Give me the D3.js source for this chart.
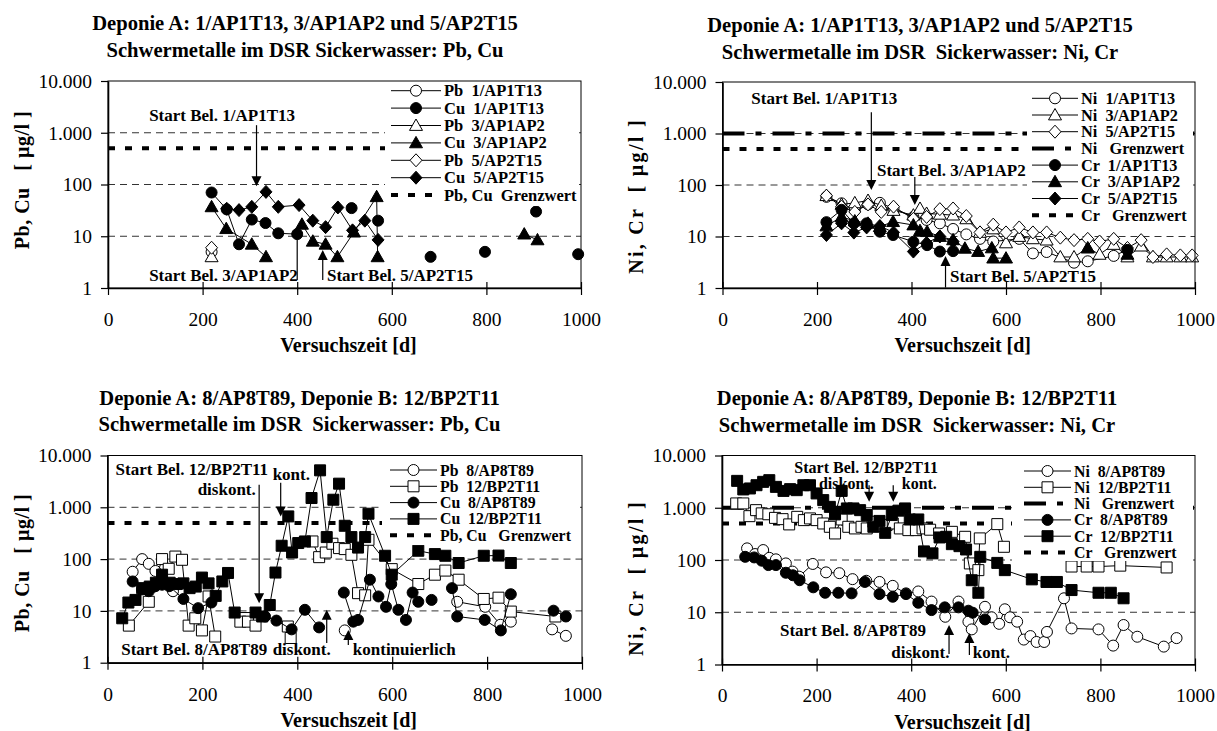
<!DOCTYPE html>
<html><head><meta charset="utf-8">
<script src="https://cdn.jsdelivr.net/npm/d3@7"></script>
<style>
body{margin:0;background:#fff;}
svg{display:block;font-family:"Liberation Serif","Times New Roman",serif;}
text{white-space:pre;}
</style></head><body>
<svg id="c" width="1217" height="731"></svg>
<script>
// ---------- shared ticks ----------
const xTicks = [0,200,400,600,800,1000];
const yTicks = [1,10,100,1000,10000];
const yTickLabels = ["1","10","100","1.000","10.000"];
const gridValues = [10,100,1000];
const grenzwertPbCu = 500;
const grenzwertNi = 1000;
const grenzwertCr = 500;

// ---------- Panel 1: Pb, Cu (1/AP1T13, 3/AP1AP2, 5/AP2T15) ----------
const p1_Pb_1 = [[219,5]];
const p1_Cu_1 = [[219,70],[251,33],[277,7],[304,21],[333,18],[360,11.4],[400,11],[458,null],[515,35],[540,null],[571,20],[620,null],[682,4],[740,null],[797,5],[850,null],[905,30],[950,null],[994,4.5]];
const p1_Pb_3 = [[219,4]];
const p1_Cu_3 = [[219,37],[250,14],[304,7],[334,4],[370,null],[410,17],[433,8],[460,7],[485,4],[520,12],[568,58],[570,4],[700,null],[880,11],[908,8.5]];
const p1_Pb_5 = [[219,6]];
const p1_Cu_5 = [[251,34],[277,32],[304,37],[334,72],[360,37],[404,40],[433,20],[460,15],[486,36],[517,13],[543,20],[571,8.5]];

// ---------- Panel 2: Ni, Cr (1/AP1T13, 3/AP1AP2, 5/AP2T15) ----------
const p2_Ni_1 = [[220,59],[252,44],[280,33],[308,42],[333,45],[362,35],[404,24],[432,21],[460,18],[488,14],[516,11],[545,9],[573,8],[628,9],[657,4.7],[686,5],[744,3.1],[773,3.3],[828,4.2],[857,5.5]];
const p2_Ni_3 = [[220,62],[252,42],[280,45],[308,50],[336,40],[362,32],[404,26],[418,35],[432,28],[460,27],[488,26],[516,22],[545,12],[573,14],[600,7.5],[628,10],[657,9],[686,8.5],[715,4],[744,4],[773,6],[798,4.5],[828,7],[857,4],[886,6.5],[911,4],[940,4],[969,4],[994,4]];
const p2_Ni_5 = [[220,62],[252,38],[280,30],[308,42],[336,30],[362,38],[404,22],[432,24],[460,34],[488,35],[516,25],[545,12],[573,17],[600,12],[628,15],[657,12],[686,12],[715,9.5],[744,8.5],[773,9],[798,8],[828,9],[857,6],[886,8.5],[911,4],[940,4.5],[969,4.3],[994,4.3]];
const p2_Cr_1 = [[220,19],[252,33],[278,18],[305,18],[333,12.4],[361,10.7],[404,7.9],[433,6.8],[460,5.1],[488,5.2],[600,null],[857,5.5]];
const p2_Cr_3 = [[220,16],[252,24],[280,20],[308,18],[333,15.5],[361,19.4],[404,16.7],[418,13],[433,12.4],[460,10],[488,8.6],[513,5.9],[541,5.1],[570,6],[573,3.8],[600,3.8],[680,null],[773,6],[820,null],[857,4.5]];
const p2_Cr_5 = [[220,10.7],[252,18],[278,11.9],[305,15],[333,16],[362,12],[404,5.1],[432,7.5],[460,10],[488,8]];

// ---------- Panel 3: Pb, Cu (8/AP8T89, 12/BP2T11) ----------
const p3_Pb_8 = [[53,57],[73,100],[87,81],[101,59],[115,40],[138,24],[160,null],[500,4.2],[600,null],[737,15],[796,12],[828,5.4],[850,6.2],[890,null],[937,4.4],[966,3.3]];
const p3_Pb_12 = [[45,5.2],[87,15],[115,100],[129,65],[143,112],[157,97],[171,5.2],[185,7.2],[199,4.2],[213,19],[227,3.2],[250,null],[280,6.2],[296,6.2],[312,5.2],[350,null],[380,5],[386,3],[400,null],[432,219],[446,109],[460,134],[474,198],[488,163],[500,156],[514,121],[528,22],[543,20],[550,236],[599,64],[655,33],[690,50],[712,60],[740,40],[793,17],[824,18],[850,9.7],[944,7.8]];
const p3_Cu_8 = [[53,37],[73,26],[87,24],[101,30],[115,32],[130,30],[160,17],[191,11.3],[219,14.5],[240,null],[332,7.8],[356,6.5],[388,4.4],[416,10.5],[446,4.8],[470,null],[498,22.6],[518,6.2],[528,6.7],[553,40],[571,19],[587,12],[598,33],[613,10.5],[629,6.7],[643,22.6],[655,15],[670,null],[683,16.3],[700,null],[726,27.5],[737,7.8],[795,6.7],[829,4.2],[850,21],[900,null],[940,10.1],[966,7.8]];
const p3_Cu_12 = [[31,7.2],[44,14.5],[59,16.3],[73,27.5],[89,29.5],[102,35],[115,50],[131,35],[146,33],[160,34],[173,27.5],[186,29.5],[199,44],[213,34],[228,19.5],[242,37],[254,54],[268,9.3],[312,9.3],[326,7.8],[342,13],[354,55],[367,181],[381,667],[389,134],[402,204],[416,219],[430,1510],[448,5170],[462,266],[476,1400],[488,2860],[500,440],[514,266],[528,167],[543,266],[550,752],[585,116],[599,50],[655,145],[690,125],[712,116],[740,84],[793,116],[824,117],[850,84]];

// ---------- Panel 4: Ni, Cr (8/AP8T89, 12/BP2T11) ----------
const p4_Ni_8 = [[53,167],[70,130],[87,155],[100,110],[114,103],[135,86],[149,60],[163,48],[192,84],[220,58],[248,56],[276,43],[305,40],[333,38],[361,32],[389,23],[415,25],[443,16],[472,8.2],[500,16],[521,6.6],[528,4.7],[556,12.7],[570,8],[586,6],[598,11.4],[609,8],[624,6.6],[638,3],[652,3.5],[665,2.7],[681,2.7],[687,4.2],[723,18.5],[739,4.9],[796,4.7],[827,2.3],[849,5.7],[878,3.4],[934,2.2],[961,3.2]];
const p4_Ni_12 = [[30,1210],[45,1210],[58,690],[72,900],[84,780],[98,750],[112,640],[128,605],[142,480],[159,670],[173,580],[186,625],[200,580],[214,500],[228,432],[239,322],[253,597],[267,432],[281,402],[295,432],[306,402],[320,540],[334,445],[348,470],[361,500],[376,402],[394,373],[410,373],[424,402],[440,380],[459,322],[486,346],[514,278],[524,86],[542,64],[545,259],[582,486],[596,179],[650,null],[739,75],[771,75],[796,75],[842,78],[940,72]];
const p4_Cr_8 = [[49,115],[68,112],[84,97],[98,80],[114,80],[135,57],[150,51],[164,41],[193,30],[218,23.6],[246,23.6],[274,23],[302,38],[333,22.3],[361,19.8],[389,22.3],[415,15.2],[443,11],[471,12.4],[500,12.4],[521,10.7],[530,9.8],[556,7.3]];
const p4_Cr_12 = [[32,3270],[45,2240],[59,2340],[73,2700],[87,3130],[100,3370],[114,2510],[130,2100],[144,2270],[158,2170],[172,2700],[186,2700],[200,1880],[214,1400],[228,1040],[239,745],[253,2100],[264,970],[278,970],[292,900],[306,725],[320,432],[333,560],[345,331],[359,725],[373,880],[387,970],[397,597],[415,597],[427,146],[445,134],[460,270],[474,278],[486,201],[502,184],[516,159],[528,41],[542,23.6],[546,115],[582,88],[598,64],[655,42.6],[686,38],[708,38],[739,26.6],[796,23.6],[822,23.6],[849,18.5]];

// ---------- symbols ----------
const symCircle = {draw(c,s){const r=Math.sqrt(s); c.moveTo(r,0); c.arc(0,0,r,0,2*Math.PI);}};
const symTri = {draw(c,s){const r=Math.sqrt(s); c.moveTo(0,-r); c.lineTo(r,r*0.75); c.lineTo(-r,r*0.75); c.closePath();}};
const symDiamond = {draw(c,s){const r=Math.sqrt(s); c.moveTo(0,-r); c.lineTo(r*0.92,0); c.lineTo(0,r); c.lineTo(-r*0.92,0); c.closePath();}};
const symSquare = {draw(c,s){const r=Math.sqrt(s); c.rect(-r,-r,2*r,2*r);}};
const SIZES = {circle:[symCircle,5.5],tri:[symTri,6.5],diamond:[symDiamond,6.5],square:[symSquare,5.5]};

const DOT = "7,10";
const DASHDOT = "22,11,6,11";

const svg = d3.select("#c");

function drawPanel(cfg){
  const g = svg.append("g");
  const x = d3.scaleLinear().domain([0,1000]).range([cfg.l,cfg.r]);
  const y = d3.scaleLog().domain([1,10000]).range([cfg.b,cfg.t]);

  cfg.titles.forEach((t,i)=>{
    g.append("text").attr("x",cfg.tx).attr("y",cfg.ty[i]).attr("text-anchor","middle")
      .attr("dominant-baseline","central").attr("font-weight","bold").attr("font-size",20.6).text(t);
  });

  g.selectAll(null).data(gridValues).join("line")
    .attr("x1",cfg.l).attr("x2",cfg.r).attr("y1",d=>y(d)).attr("y2",d=>y(d))
    .attr("stroke","#333").attr("stroke-width",1).attr("stroke-dasharray","7,5");

  cfg.limits.forEach(L=>{
    g.append("line").attr("x1",cfg.l).attr("x2",cfg.r).attr("y1",y(L.v)).attr("y2",y(L.v))
      .attr("stroke","#000").attr("stroke-width",4).attr("stroke-dasharray",L.dash);
  });

  const line = d3.line().defined(d=>d[1]!=null).x(d=>x(d[0])).y(d=>y(d[1]));
  cfg.series.forEach(s=>{
    g.append("path").attr("d",line(s.data)).attr("fill","none").attr("stroke","#000").attr("stroke-width",1);
    const [sym,r] = SIZES[s.sym];
    g.selectAll(null).data(s.data.filter(d=>d[1]!=null)).join("path")
      .attr("transform",d=>`translate(${x(d[0])},${y(d[1])})`)
      .attr("d",d3.symbol().type(sym).size(r*r)())
      .attr("fill",s.filled?"#000":"#fff").attr("stroke","#000").attr("stroke-width",1);
  });

  g.append("rect").attr("x",cfg.l).attr("y",cfg.t).attr("width",cfg.r-cfg.l).attr("height",cfg.b-cfg.t)
    .attr("fill","none").attr("stroke","#000").attr("stroke-width",1);

  const xa = g.append("g").attr("transform",`translate(0,${cfg.b})`)
    .call(d3.axisBottom(x).tickValues(xTicks).tickSize(7).tickSizeOuter(0).tickPadding(17).tickFormat(d3.format("d")));
  const ya = g.append("g").attr("transform",`translate(${cfg.l},0)`)
    .call(d3.axisLeft(y).tickValues(yTicks).tickSize(7).tickSizeOuter(0).tickPadding(9).tickFormat((d,i)=>yTickLabels[i]));
  [xa,ya].forEach(a=>{
    a.attr("font-family",null).attr("font-size",19.5);
    a.select(".domain").attr("stroke","#000").attr("stroke-width",1.6);
    a.selectAll(".tick line").attr("stroke","#000").attr("stroke-width",1.2);
    a.selectAll(".tick text").attr("fill","#000");
  });
  xa.selectAll(".tick line").attr("y1",-6);

  g.append("text").attr("x",(cfg.l+cfg.r)/2+4).attr("y",cfg.b+57).attr("text-anchor","middle")
    .attr("dominant-baseline","central").attr("font-weight","bold").attr("font-size",20).text("Versuchszeit [d]");
  g.append("text").attr("transform",`translate(${cfg.ylx},${cfg.yly}) rotate(-90)`).attr("text-anchor","middle")
    .attr("dominant-baseline","central").attr("font-weight","bold").attr("font-size",20)
    .attr("letter-spacing",cfg.yls).text(cfg.ylabel);

  const L = cfg.legend;
  g.append("rect").attr("x",L.bx).attr("y",L.by).attr("width",L.bw).attr("height",L.bh).attr("fill","#fff");
  L.items.forEach((it,i)=>{
    const yy = L.y0 + i*L.dy;
    const ln = g.append("line").attr("x1",L.x1).attr("x2",L.x2).attr("y1",yy).attr("y2",yy).attr("stroke","#000");
    if(it.dash){ ln.attr("stroke-width",4).attr("stroke-dasharray",it.dash); }
    else {
      ln.attr("stroke-width",1);
      const [sym,r] = SIZES[it.sym];
      g.append("path").attr("transform",`translate(${(L.x1+L.x2)/2},${yy})`)
        .attr("d",d3.symbol().type(sym).size(r*r)())
        .attr("fill",it.filled?"#000":"#fff").attr("stroke","#000");
    }
    g.append("text").attr("x",L.x2+3).attr("y",yy).attr("dominant-baseline","central")
      .attr("font-weight","bold").attr("font-size",L.fs).text(it.label);
  });

  cfg.notes.forEach(n=>{
    g.append("text").attr("x",x(n.day)).attr("y",y(n.v)).attr("dominant-baseline","central")
      .attr("font-weight","bold").attr("font-size",n.fs||17).text(n.text);
  });
  cfg.arrows.forEach(a=>{
    const xp=x(a.day), y0=y(a.from), y1=y(a.to), dir = y1>y0?1:-1;
    g.append("line").attr("x1",xp).attr("x2",xp).attr("y1",y0).attr("y2",y1-dir*4).attr("stroke","#000").attr("stroke-width",1.2);
    g.append("path").attr("d",`M${xp},${y1}L${xp-5},${y1-dir*10}L${xp+5},${y1-dir*10}Z`).attr("fill","#000");
  });
}

const L1 = "Deponie A: 1/AP1T13, 3/AP1AP2 und 5/AP2T15";
const L3 = "Deponie A: 8/AP8T89, Deponie B: 12/BP2T11";

drawPanel({
  l:108,r:581,t:81,b:288, tx:305, ty:[23,50],
  titles:[L1,"Schwermetalle im DSR Sickerwasser: Pb, Cu"],
  ylabel:"Pb, Cu   [ µg/l ]", ylx:21.5, yly:180, yls:0.5,
  limits:[{v:grenzwertPbCu,dash:DOT}],
  series:[
    {data:p1_Pb_1,sym:"circle",filled:false},
    {data:p1_Cu_1,sym:"circle",filled:true},
    {data:p1_Pb_3,sym:"tri",filled:false},
    {data:p1_Cu_3,sym:"tri",filled:true},
    {data:p1_Pb_5,sym:"diamond",filled:false},
    {data:p1_Cu_5,sym:"diamond",filled:true}
  ],
  legend:{bx:385,by:82,bw:194,bh:124,x1:391,x2:441,y0:90.7,dy:17.4,fs:16.5,items:[
    {label:"Pb  1/AP1T13",sym:"circle",filled:false},
    {label:"Cu  1/AP1T13",sym:"circle",filled:true},
    {label:"Pb  3/AP1AP2",sym:"tri",filled:false},
    {label:"Cu  3/AP1AP2",sym:"tri",filled:true},
    {label:"Pb  5/AP2T15",sym:"diamond",filled:false},
    {label:"Cu  5/AP2T15",sym:"diamond",filled:true},
    {label:"Pb, Cu  Grenzwert",dash:DOT}
  ]},
  notes:[
    {text:"Start Bel. 1/AP1T13",day:87,v:2200},
    {text:"Start Bel. 3/AP1AP2",day:87,v:1.78},
    {text:"Start Bel. 5/AP2T15",day:463,v:1.78}
  ],
  arrows:[
    {day:314,from:1400,to:92},
    {day:400,from:1.43,to:15.5},
    {day:454,from:1.43,to:5.4}
  ]
});

drawPanel({
  l:722.5,r:1195,t:82,b:288, tx:920, ty:[25,51.5],
  titles:[L1,"Schwermetalle im DSR  Sickerwasser: Ni, Cr"],
  ylabel:"Ni, Cr  [ µg/l ]", ylx:635.5, yly:196, yls:2.3,
  limits:[{v:grenzwertNi,dash:DASHDOT},{v:grenzwertCr,dash:DOT}],
  series:[
    {data:p2_Ni_1,sym:"circle",filled:false},
    {data:p2_Ni_3,sym:"tri",filled:false},
    {data:p2_Ni_5,sym:"diamond",filled:false},
    {data:p2_Cr_1,sym:"circle",filled:true},
    {data:p2_Cr_3,sym:"tri",filled:true},
    {data:p2_Cr_5,sym:"diamond",filled:true}
  ],
  legend:{bx:1027,by:88,bw:166,bh:136,x1:1032,x2:1078,y0:98.3,dy:16.7,fs:16.3,items:[
    {label:"Ni  1/AP1T13",sym:"circle",filled:false},
    {label:"Ni  3/AP1AP2",sym:"tri",filled:false},
    {label:"Ni  5/AP2T15",sym:"diamond",filled:false},
    {label:"Ni   Grenzwert",dash:DASHDOT},
    {label:"Cr  1/AP1T13",sym:"circle",filled:true},
    {label:"Cr  3/AP1AP2",sym:"tri",filled:true},
    {label:"Cr  5/AP2T15",sym:"diamond",filled:true},
    {label:"Cr   Grenzwert",dash:DOT}
  ]},
  notes:[
    {text:"Start Bel. 1/AP1T13",day:61,v:4820},
    {text:"Start Bel. 3/AP1AP2",day:327,v:190},
    {text:"Start Bel. 5/AP2T15",day:481.5,v:1.71}
  ],
  arrows:[
    {day:315,from:2600,to:80},
    {day:407,from:143,to:41},
    {day:472,from:1.02,to:4.2}
  ]
});

drawPanel({
  l:107.5,r:582,t:455.5,b:662.7, tx:299.5, ty:[398,424],
  titles:[L3,"Schwermetalle im DSR  Sickerwasser: Pb, Cu"],
  ylabel:"Pb, Cu   [ µg/l ]", ylx:21.5, yly:563, yls:0.5,
  limits:[{v:grenzwertPbCu,dash:DOT}],
  series:[
    {data:p3_Pb_8,sym:"circle",filled:false},
    {data:p3_Pb_12,sym:"square",filled:false},
    {data:p3_Cu_8,sym:"circle",filled:true},
    {data:p3_Cu_12,sym:"square",filled:true}
  ],
  legend:{bx:382,by:459,bw:198,bh:86,x1:390,x2:437,y0:470,dy:16.3,fs:15.8,items:[
    {label:"Pb  8/AP8T89",sym:"circle",filled:false},
    {label:"Pb  12/BP2T11",sym:"square",filled:false},
    {label:"Cu  8/AP8T89",sym:"circle",filled:true},
    {label:"Cu  12/BP2T11",sym:"square",filled:true},
    {label:"Pb, Cu   Grenzwert",dash:DOT}
  ]},
  notes:[
    {text:"Start Bel. 12/BP2T11",day:17,v:5340},
    {text:"kont.",day:348,v:4270},
    {text:"diskont.",day:190,v:2190},
    {text:"Start Bel. 8/AP8T89",day:29,v:1.82},
    {text:"diskont.",day:348,v:1.76},
    {text:"kontinuierlich",day:517,v:1.76}
  ],
  arrows:[
    {day:319.6,from:2735,to:14.1},
    {day:365,from:2990,to:667},
    {day:462,from:2.4,to:10.5},
    {day:507.5,from:2.2,to:4.3}
  ]
});

drawPanel({
  l:722,r:1195,t:455.5,b:664.5, tx:917, ty:[398,425],
  titles:[L3,"Schwermetalle im DSR  Sickerwasser: Ni, Cr"],
  ylabel:"Ni, Cr  [ µg/l ]", ylx:635.5, yly:578, yls:2.3,
  limits:[{v:grenzwertNi,dash:DASHDOT},{v:grenzwertCr,dash:DOT}],
  series:[
    {data:p4_Ni_8,sym:"circle",filled:false},
    {data:p4_Ni_12,sym:"square",filled:false},
    {data:p4_Cr_8,sym:"circle",filled:true},
    {data:p4_Cr_12,sym:"square",filled:true}
  ],
  legend:{bx:1012,by:461,bw:181,bh:100,x1:1024,x2:1071,y0:471,dy:16.3,fs:15.8,items:[
    {label:"Ni  8/AP8T89",sym:"circle",filled:false},
    {label:"Ni  12/BP2T11",sym:"square",filled:false},
    {label:"Ni   Grenzwert",dash:DASHDOT},
    {label:"Cr  8/AP8T89",sym:"circle",filled:true},
    {label:"Cr  12/BP2T11",sym:"square",filled:true},
    {label:"Cr   Grenzwert",dash:DOT}
  ]},
  notes:[
    {text:"Start Bel. 12/BP2T11",day:153,v:5900,fs:16},
    {text:"diskont.",day:205,v:2950,fs:16},
    {text:"kont.",day:380,v:2950,fs:16},
    {text:"Start Bel. 8/AP8T89",day:122.6,v:4.57},
    {text:"diskont.",day:358,v:1.66},
    {text:"kont.",day:530,v:1.73}
  ],
  arrows:[
    {day:311,from:2700,to:1300},
    {day:362,from:2700,to:1300},
    {day:480,from:1.59,to:5.7},
    {day:523,from:1.52,to:4}
  ]
});
</script></body></html>
